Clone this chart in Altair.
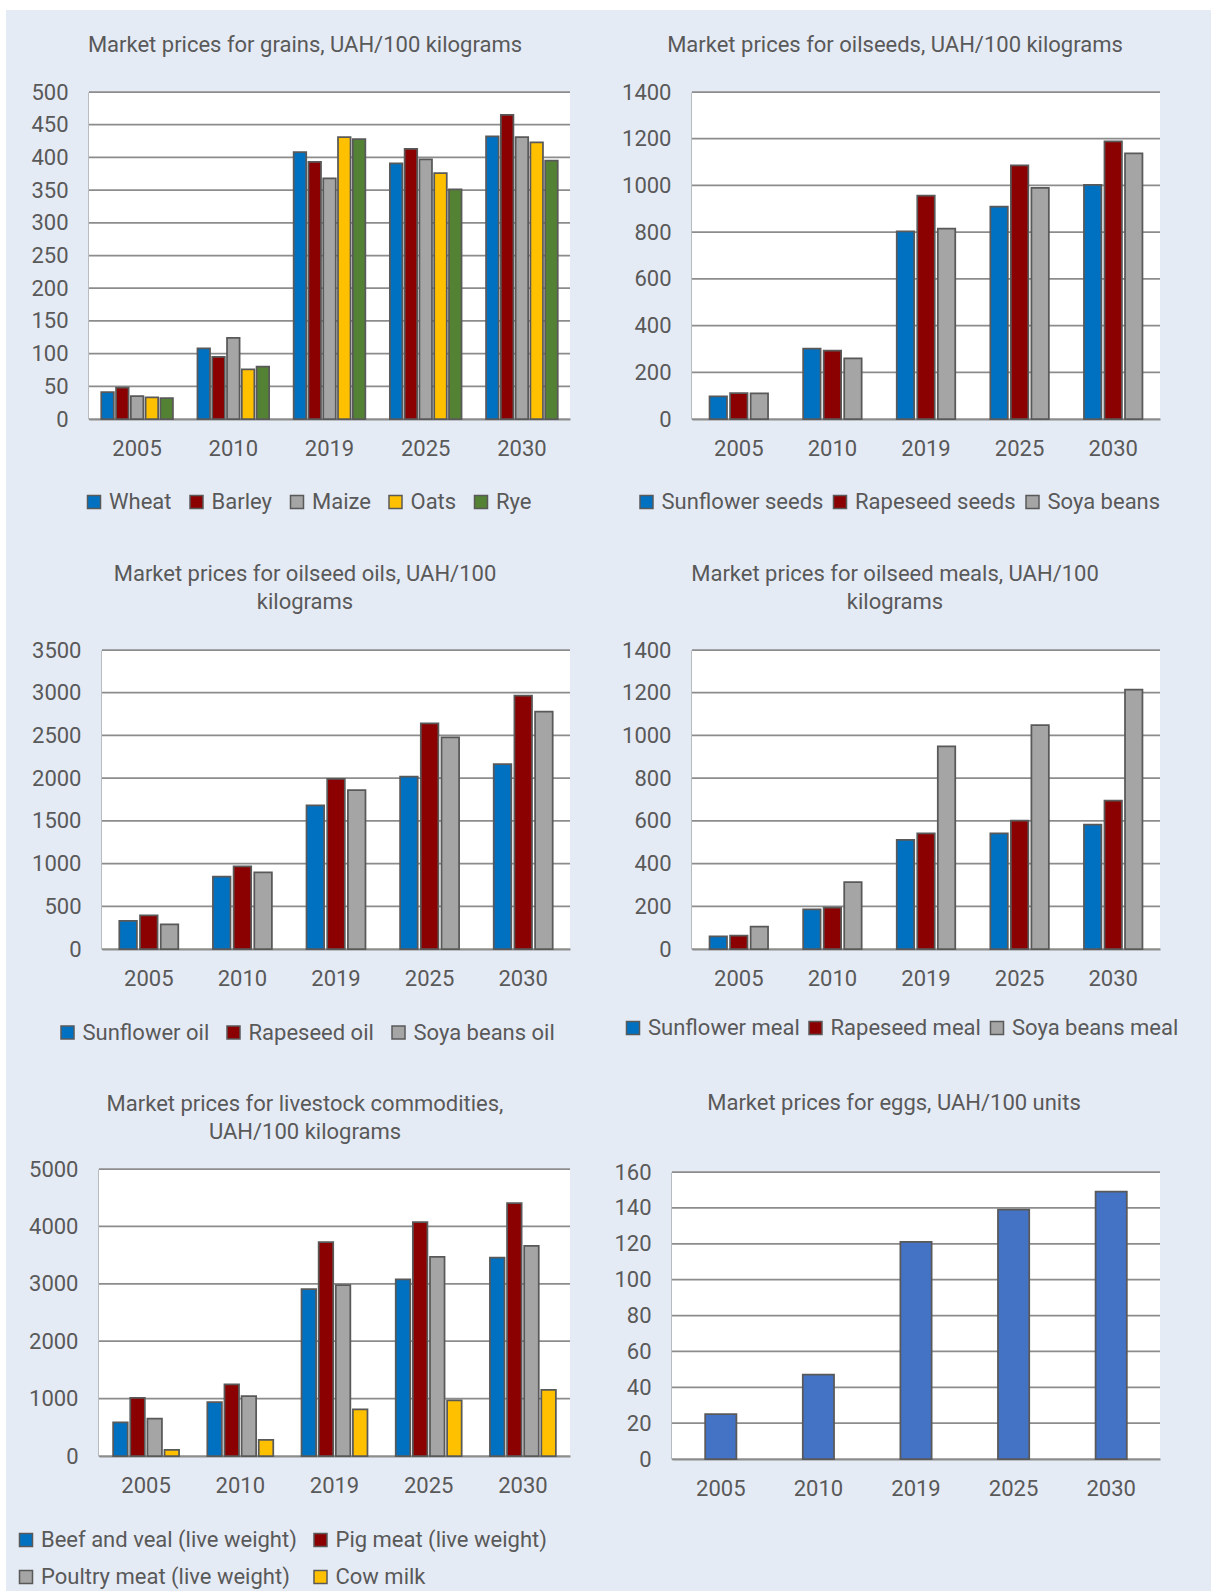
import altair as alt
import pandas as pd

# ---- data -------------------------------------------------------------
years = ["2005", "2010", "2019", "2025", "2030"]

grain_names = ["Wheat", "Barley", "Maize", "Oats", "Rye"]
wheat = [41, 108, 408, 391, 432]
barley = [48, 95, 393, 413, 465]
maize = [35, 124, 368, 397, 431]
oats = [33, 76, 431, 376, 423]
rye = [32, 80, 428, 351, 395]

oilseed_names = ["Sunflower seeds", "Rapeseed seeds", "Soya beans"]
sunflower_seeds = [97, 301, 803, 909, 1002]
rapeseed_seeds = [111, 293, 956, 1086, 1189]
soya_beans = [110, 260, 815, 990, 1137]

oil_names = ["Sunflower oil", "Rapeseed oil", "Soya beans oil"]
sunflower_oil = [328, 847, 1682, 2017, 2165]
rapeseed_oil = [394, 968, 1990, 2641, 2965]
soya_oil = [289, 897, 1861, 2478, 2778]

meal_names = ["Sunflower meal", "Rapeseed meal", "Soya beans meal"]
sunflower_meal = [59, 185, 511, 541, 582]
rapeseed_meal = [63, 194, 541, 601, 695]
soya_meal = [105, 313, 949, 1048, 1215]

livestock_names = ["Beef and veal (live weight)", "Pig meat (live weight)",
                   "Poultry meat (live weight)", "Cow milk"]
beef_veal = [584, 938, 2907, 3078, 3455]
pig_meat = [1014, 1250, 3726, 4074, 4404]
poultry_meat = [649, 1044, 2978, 3467, 3661]
cow_milk = [106, 283, 814, 967, 1150]

egg_prices = [25, 47, 121, 139, 149]

# ---- styling ------------------------------------------------------------
FONT = "Roboto"
TEXT = "#595959"
LINE = "#8C8C8C"
BG = "#E5EBF5"
BLUE, RED, GREY, GOLD, GREEN = "#0070C0", "#8B0000", "#A5A5A5", "#FFC000", "#548235"
EGG_BLUE = "#4472C4"

LEFT_W, RIGHT_W = 564, 590   # cell widths of the two columns

blank = pd.DataFrame({"k": [0]})


def spacer(w, h):
    return (
        alt.Chart(blank)
        .mark_point(opacity=0, size=1)
        .encode(x=alt.value(4), y=alt.value(4))
        .properties(width=w, height=h)
    )


def long_table(names, values):
    rows = []
    for name, vals in zip(names, values):
        for yr, v in zip(years, vals):
            rows.append({"year": yr, "series": name, "value": v})
    return pd.DataFrame(rows)


def legend(x, y, columns, col_pad, row_pad=0):
    return alt.Legend(orient="none", legendX=x, legendY=y, direction="horizontal",
                      columns=columns, columnPadding=col_pad, rowPadding=row_pad)


def panel(names, values, colors, cell_w, left, height, ymax, ystep, title,
          title_dx, title_offset, band_pad, legend_spec=None, top=0):
    """One bar panel: the plot occupies [left, cell_w] x [top, height] of its cell."""
    df = long_table(names, values)
    ticks = list(range(0, ymax + 1, ystep))

    y_enc = alt.Y("value:Q", title=None,
                  scale=alt.Scale(domain=[0, ymax], nice=False, range=[height, top]),
                  axis=alt.Axis(values=ticks, format="d", offset=-left))

    plot_bg = (
        alt.Chart(blank)
        .mark_rect(color="white")
        .encode(x=alt.value(left), x2=alt.value(cell_w),
                y=alt.value(top), y2=alt.value(height))
    )
    grid = (
        alt.Chart(pd.DataFrame({"value": ticks}))
        .mark_rule(color=LINE, strokeWidth=1.75)
        .encode(x=alt.value(left), x2=alt.value(cell_w), y=y_enc)
    )

    enc = {
        "x": alt.X("year:N", sort=years, title=None,
                   scale=alt.Scale(range=[left, cell_w], paddingInner=band_pad,
                                   paddingOuter=band_pad / 2)),
        "y": y_enc,
    }
    if len(names) > 1:
        enc["xOffset"] = alt.XOffset("series:N", sort=names,
                                     scale=alt.Scale(paddingInner=0.15, paddingOuter=0))
        enc["color"] = alt.Color("series:N", sort=names, title=None,
                                 scale=alt.Scale(domain=names, range=colors),
                                 legend=legend_spec)
        bars = alt.Chart(df).mark_bar(stroke=TEXT, strokeWidth=1.75)
    else:
        bars = alt.Chart(df).mark_bar(stroke=TEXT, strokeWidth=1.75, color=colors[0])
    bars = bars.encode(**enc)

    return alt.layer(plot_bg, grid, bars).properties(
        width=cell_w,
        height=height,
        title=alt.TitleParams(text=title, dx=title_dx, offset=title_offset,
                              frame="group", lineHeight=28),
    )


# page background: a thin first row whose only mark is the full-page rectangle
backdrop = (
    alt.Chart(blank)
    .mark_rect(color=BG)
    .encode(x=alt.value(0), x2=alt.value(1205), y=alt.value(-81), y2=alt.value(1500))
    .properties(width=1, height=1)
)

grains = panel(grain_names, [wheat, barley, maize, oats, rye],
               [BLUE, RED, GREY, GOLD, GREEN], LEFT_W, 83, 327, 500, 50,
               "Market prices for grains, UAH/100 kilograms", 17, 24, 0.255,
               legend(77, 399, 5, 13.5))

oilseeds = panel(oilseed_names, [sunflower_seeds, rapeseed_seeds, soya_beans],
                 [BLUE, RED, GREY], RIGHT_W, 122, 327, 1400, 200,
                 "Market prices for oilseeds, UAH/100 kilograms", 30, 24, 0.375,
                 legend(65.5, 399, 3, 5.5))

oils = panel(oil_names, [sunflower_oil, rapeseed_oil, soya_oil],
             [BLUE, RED, GREY], LEFT_W, 96, 299, 3500, 500,
             ["Market prices for oilseed oils, UAH/100", "kilograms"], 17, 25, 0.37,
             legend(50.5, 371.5, 3, 13))

meals = panel(meal_names, [sunflower_meal, rapeseed_meal, soya_meal],
              [BLUE, RED, GREY], RIGHT_W, 122, 299, 1400, 200,
              ["Market prices for oilseed meals, UAH/100", "kilograms"], 30, 25, 0.375,
              legend(52, 367, 3, 4.5))

livestock = panel(livestock_names, [beef_veal, pig_meat, poultry_meat, cow_milk],
                  [BLUE, RED, GREY, GOLD], LEFT_W, 93, 287, 5000, 1000,
                  ["Market prices for livestock commodities,", "UAH/100 kilograms"],
                  17, 14, 0.30,
                  legend(9, 360, 2, 12.5, 15))

eggs = panel(["Eggs"], [egg_prices], [EGG_BLUE], RIGHT_W, 102, 290, 160, 20,
             "Market prices for eggs, UAH/100 units", 29, 46, 0.68, top=3)

cells = [
    backdrop, spacer(1, 1),
    grains, oilseeds,
    spacer(1, 231), spacer(1, 1),
    oils, meals,
    spacer(1, 220), spacer(1, 1),
    livestock, eggs,
]

chart = (
    alt.concat(*cells, columns=2, spacing=0, bounds="flush",
               padding={"left": 6, "top": 10, "right": 0, "bottom": 0},
               background="white")
    .resolve_scale(x="independent", y="independent", color="independent",
                   xOffset="independent")
    .configure(font=FONT)
    .configure_view(strokeWidth=0)
    .configure_axis(labelFont=FONT, labelFontSize=22, labelColor=TEXT,
                    domainColor=LINE, domainWidth=2, grid=False,
                    ticks=False, tickSize=0, zindex=1)
    .configure_axisX(labelAngle=0, labelPadding=19)
    .configure_axisY(labelPadding=21)
    .configure_legend(labelFont=FONT, labelFontSize=22, labelColor=TEXT,
                      symbolType="square", symbolSize=169, symbolStrokeColor=TEXT,
                      symbolStrokeWidth=1.5, labelLimit=500, labelOffset=4, padding=0)
    .configure_title(font=FONT, fontSize=22, fontWeight="normal", color=TEXT,
                     anchor="middle", baseline="bottom")
)

chart.save("out.html", embed_options={"renderer": "svg", "actions": False})
